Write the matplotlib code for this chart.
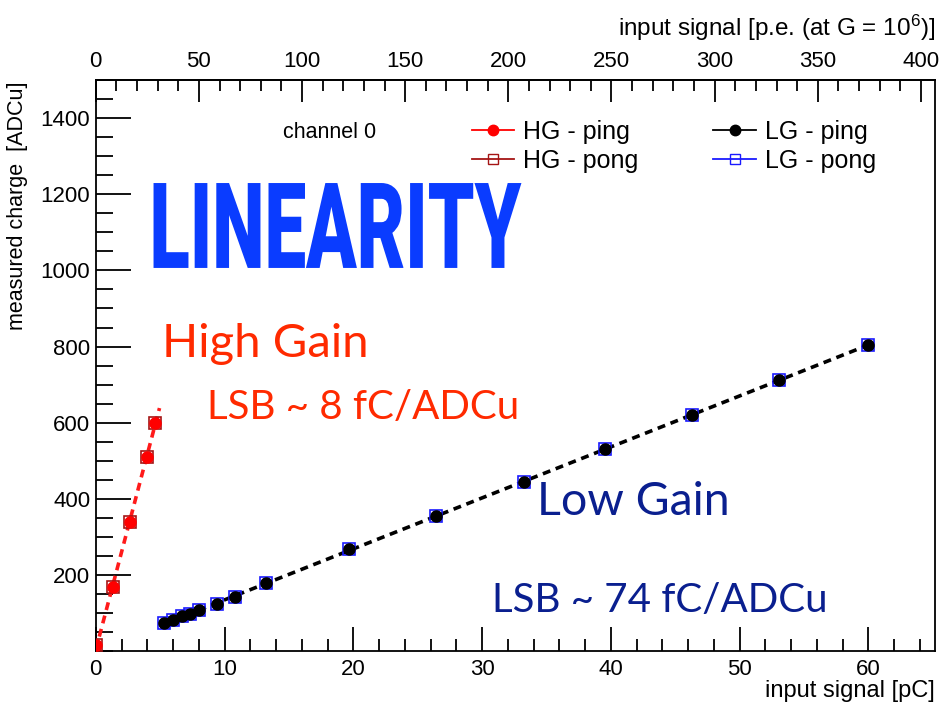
import numpy as np
import matplotlib
matplotlib.use('Agg')
import matplotlib.pyplot as plt
from matplotlib.ticker import MultipleLocator, FixedLocator
from matplotlib.lines import Line2D
from matplotlib.patheffects import AbstractPathEffect
from matplotlib.transforms import Affine2D

plt.rcParams['font.family'] = ['Liberation Sans', 'DejaVu Sans']
plt.rcParams['mathtext.fontset'] = 'custom'
plt.rcParams['mathtext.rm'] = 'Liberation Sans'
plt.rcParams['mathtext.default'] = 'regular'

# high gain data, input in pC, output in ADCu
hg_x = [0.05, 1.35, 2.65, 3.95, 4.6]
hg_ping = [16, 169, 340, 509, 598]
hg_pong = [16, 169, 340, 509, 598]

# low gain data
lg_x = [5.30, 5.97, 6.68, 7.32, 8.03, 9.40, 10.78, 13.25,
        19.63, 26.46, 33.23, 39.54, 46.3, 53.08, 60.0]
lg_ping = [73, 82, 91, 97, 108, 124, 141, 178,
           267, 355, 443, 532, 619, 711, 805]
lg_pong = [73, 82, 91, 97, 108, 124, 141, 178,
           267, 355, 443, 532, 619, 711, 805]

pe_ticks = [0, 50, 100, 150, 200, 250, 300, 350, 400]
pc_per_pe = 0.16022  # 1 p.e. at G = 1e6


class Squeeze(AbstractPathEffect):
    # narrows the glyphs horizontally around the text anchor (condensed look)
    def __init__(self, txt, sx=1.0):
        super().__init__()
        self.txt = txt
        self.sx = sx

    def draw_path(self, renderer, gc, tpath, affine, rgbFace=None):
        x0 = self.txt.get_transform().transform(self.txt.get_position())[0]
        t = affine + Affine2D().translate(-x0, 0).scale(self.sx, 1).translate(x0, 0)
        renderer.draw_path(gc, tpath, t, rgbFace)


fig = plt.figure(figsize=(9.39, 7.03), dpi=100)
ax = fig.add_axes([0.102, 0.074, 0.894, 0.812])

# fits
hg_fit = np.polyfit(hg_x, hg_ping, 1)
lg_fit = np.polyfit(lg_x, lg_ping, 1)
xf = np.array([0.0, 4.95])
ax.plot(xf, np.polyval(hg_fit, xf), color='#ff1a1a', ls=(0, (2.2, 1.6)), lw=2.6, zorder=2)
xf = np.array([5.0, 60.2])
ax.plot(xf, np.polyval(lg_fit, xf), color='black', ls=(0, (2.2, 1.6)), lw=2.6, zorder=2)

ax.plot(hg_x, hg_pong, ls='none', marker='s', ms=9, mfc='none', mec='#a51515', mew=1.2, zorder=3)
ax.plot(hg_x, hg_ping, ls='none', marker='o', ms=8, color='#ff0000', zorder=4)
ax.plot(lg_x, lg_pong, ls='none', marker='s', ms=9, mfc='none', mec='#1a1aff', mew=1.2, zorder=3)
ax.plot(lg_x, lg_ping, ls='none', marker='o', ms=8, color='black', zorder=4)

ax.set_xlim(0, 65.2)
ax.set_ylim(0, 1500)

for s in ax.spines.values():
    s.set_linewidth(1.3)

ax.xaxis.set_major_locator(MultipleLocator(10))
ax.xaxis.set_minor_locator(MultipleLocator(2))
ax.yaxis.set_minor_locator(MultipleLocator(50))
ax.set_yticks([200, 400, 600, 800, 1000, 1200, 1400])
ax.tick_params(axis='x', which='major', direction='in', length=17, width=1.3, labelsize=16, pad=6)
ax.tick_params(axis='x', which='minor', direction='in', length=9, width=1.3)
ax.tick_params(axis='y', which='major', direction='in', length=25, width=1.3, labelsize=16, pad=4)
ax.tick_params(axis='y', which='minor', direction='in', length=12, width=1.3)

# top axis in photo-electrons
top = ax.secondary_xaxis('top', functions=(lambda x: x / pc_per_pe, lambda p: p * pc_per_pe))
top.xaxis.set_major_locator(FixedLocator(pe_ticks))
top.xaxis.set_minor_locator(FixedLocator(np.arange(0, 401, 10)))
top.tick_params(axis='x', which='major', direction='in', length=16, width=1.3, labelsize=16, pad=6)
top.tick_params(axis='x', which='minor', direction='in', length=8, width=1.3)
top.spines['top'].set_linewidth(1.3)

fig.text(0.996, 0.001, 'input signal [pC]', ha='right', va='bottom', fontsize=17)
fig.text(0.996, 0.939, r'input signal [p.e. (at G = 10$^{6}$)]', ha='right', va='bottom', fontsize=17.5)
fig.text(0.019, 0.884, 'measured charge  [ADCu]', rotation=90, ha='center', va='top', fontsize=15.5)

# legend
handles = [
    Line2D([], [], color='#ff0000', marker='o', ms=7.5, lw=1.3),
    Line2D([], [], color='#a51515', marker='s', ms=7, mfc='none', lw=1.3),
    Line2D([], [], color='black', marker='o', ms=7.5, lw=1.3),
    Line2D([], [], color='#1a1aff', marker='s', ms=7, mfc='none', lw=1.3),
]
labels = ['HG - ping', 'HG - pong', 'LG - ping', 'LG - pong']
ax.legend(handles, labels, ncol=2, loc='upper left', bbox_to_anchor=(0.448, 0.931),
          frameon=False, fontsize=18, handlelength=1.7, handletextpad=0.35,
          columnspacing=3.0, labelspacing=0.2, borderpad=0, borderaxespad=0)

ax.text(0.223, 0.908, 'channel 0', transform=ax.transAxes, fontsize=15.5, ha='left', va='center')

lin = ax.text(0.064, 0.671, 'LINEARITY', transform=ax.transAxes, color='#0a3cff',
              fontsize=86, fontweight='black', family=['Roboto', 'DejaVu Sans'],
              ha='left', va='baseline')

ax.text(0.079, 0.515, 'High Gain', transform=ax.transAxes, color='#ff2a00',
        fontsize=34, family=['Lato', 'DejaVu Sans'], ha='left', va='baseline')
ax.text(0.133, 0.406, 'LSB ~ 8 fC/ADCu', transform=ax.transAxes, color='#ff2a00',
        fontsize=29, family=['Lato', 'DejaVu Sans'], ha='left', va='baseline')
ax.text(0.526, 0.238, 'Low Gain', transform=ax.transAxes, color='#0a1f8f',
        fontsize=33.5, family=['Lato', 'DejaVu Sans'], ha='left', va='baseline')
ax.text(0.472, 0.068, 'LSB ~ 74 fC/ADCu', transform=ax.transAxes, color='#0a1f8f',
        fontsize=29, family=['Lato', 'DejaVu Sans'], ha='left', va='baseline')

# squeeze the big title to the condensed width of the original
fig.canvas.draw()
w = lin.get_window_extent().width
lin.set_path_effects([Squeeze(lin, 372.0 / w)])

fig.savefig('out.png', dpi=100)
